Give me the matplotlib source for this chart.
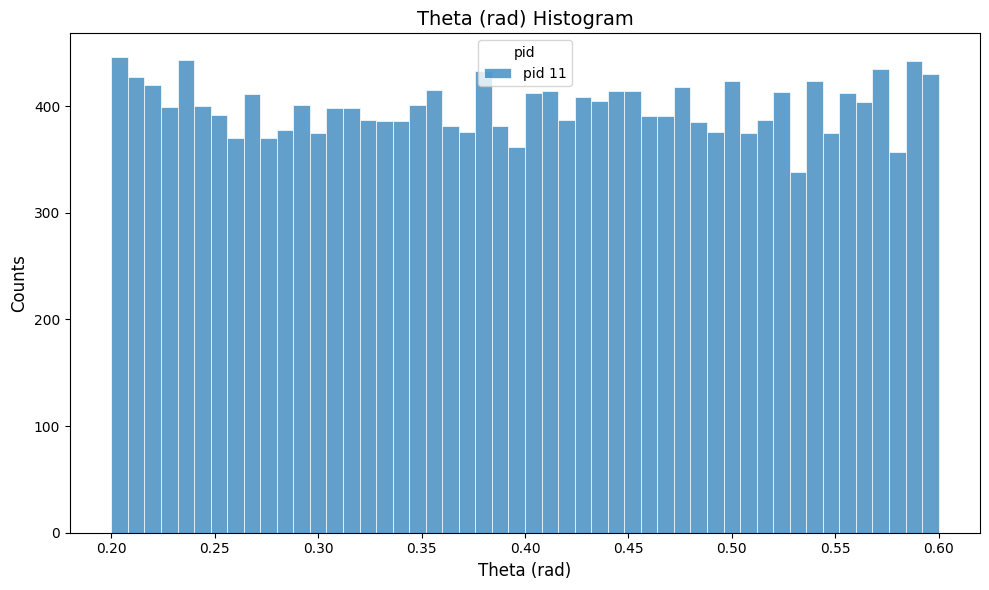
import matplotlib.pyplot as plt
import numpy as np

# bin range and counts
theta_min = 0.20
theta_max = 0.60
n_bins = 50
counts = [446, 427, 420, 399, 443, 400, 392, 370, 411, 370,
          378, 401, 375, 398, 398, 387, 386, 386, 401, 415,
          381, 376, 433, 381, 362, 412, 414, 387, 409, 405,
          414, 414, 391, 391, 418, 385, 376, 424, 375, 387,
          413, 338, 424, 375, 412, 404, 435, 357, 442, 430]
label = 'pid 11'

edges = np.linspace(theta_min, theta_max, n_bins + 1)
centers = 0.5 * (edges[:-1] + edges[1:])

fig, ax = plt.subplots(figsize=(9.89, 5.9), dpi=100)
ax.hist(centers, bins=edges, weights=counts, color='tab:blue', alpha=0.7,
        edgecolor='white', linewidth=0.7, label=label)
ax.set_xlabel('Theta (rad)', fontsize=12)
ax.set_ylabel('Counts', fontsize=12)
ax.set_title('Theta (rad) Histogram', fontsize=14)
ticks = np.arange(0.20, 0.601, 0.05)
ax.set_xticks(ticks)
ax.set_xticklabels(['%.2f' % t for t in ticks])
ax.legend(title='pid', loc='upper center')
fig.subplots_adjust(left=0.0708, right=0.9909, top=0.9436, bottom=0.0971)
fig.savefig('out.png')
